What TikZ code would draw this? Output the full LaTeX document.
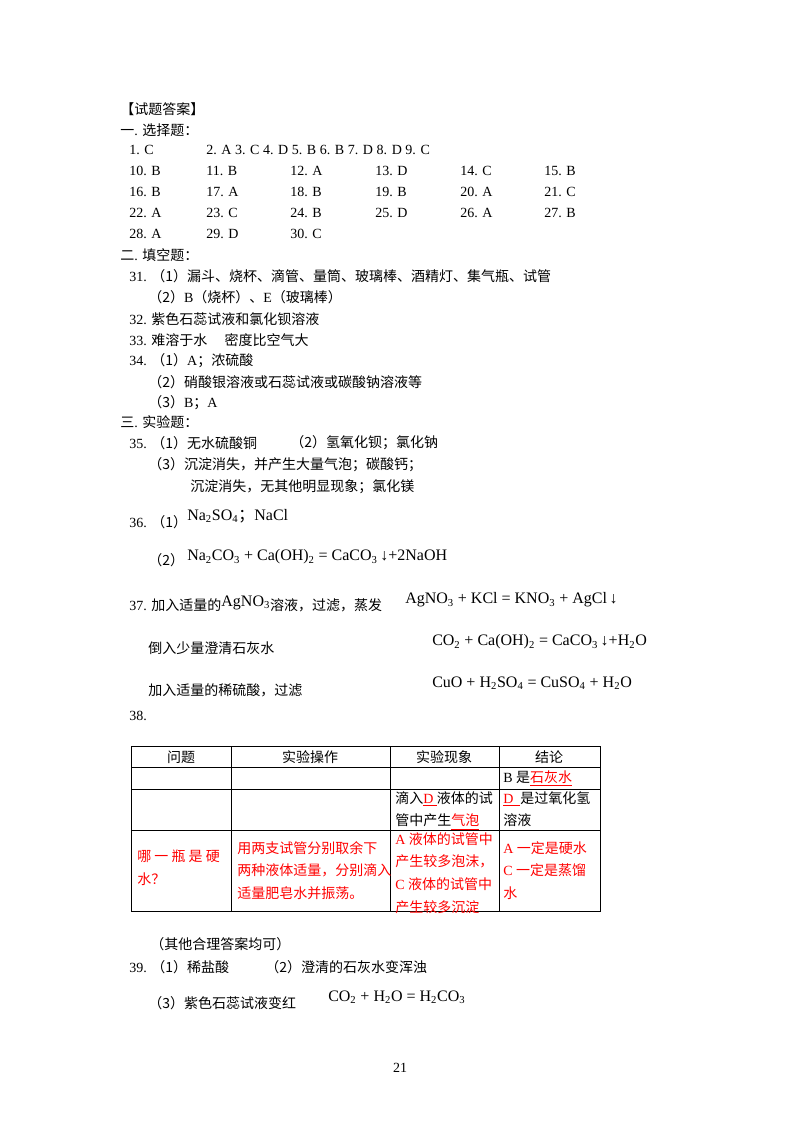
\documentclass[tikz,border=0pt]{standalone}
\usepackage{fontspec}
\setmainfont{Liberation Serif}
\newfontfamily\zhf{Noto Sans CJK SC}
\newcommand\zh[1]{{\zhf #1}}
\newcommand\sub[1]{\textsubscript{#1}}
\begin{document}
\begin{tikzpicture}[x=0.75pt,y=-0.75pt,
  t/.style={anchor=west,inner sep=0pt,font=\fontsize{10.5}{12}\selectfont},
  f/.style={anchor=west,inner sep=0pt,font=\fontsize{12}{14}\selectfont},
  rt/.style={t,text=red},
  cell/.style={anchor=north west,inner sep=0pt,font=\fontsize{10.5}{17}\selectfont,align=left},
  grid/.style={line width=0.6pt}]
\useasboundingbox[fill=white] (0,0) rectangle (800,1132);
\node[t] (h) at (120,109) {\zh{【试题答案】}};
\node[t] (s1) at (120,130) {\zh{一}. \zh{选择题：}};
\node[t] (a1) at (129,150) {1. C};
\node[t] (a2) at (206,150) {2. A 3. C 4. D 5. B 6. B 7. D 8. D 9. C};
\foreach \r/\yy/\list in {0/171/{10. B,11. B,12. A,13. D,14. C,15. B},1/192/{16. B,17. A,18. B,19. B,20. A,21. C},2/213/{22. A,23. C,24. B,25. D,26. A,27. B},3/234/{28. A,29. D,30. C}}{
  \foreach \txt [count=\i] in \list {
    \pgfmathsetmacro\xx{{129,206,290,375,460,544}[\i-1]}
    \node[t] (g\r-\i) at (\xx,\yy) {\txt};
  }
}
\node[t] (s2) at (120,255) {\zh{二}. \zh{填空题：}};
\node[t] (q31) at (129,276) {31. \zh{（1）漏斗、烧杯、滴管、量筒、玻璃棒、酒精灯、集气瓶、试管}};
\node[t] (q31b) at (148,297) {\zh{（2）}B\zh{（烧杯）、}E\zh{（玻璃棒）}};
\node[t] (q32) at (129,319) {32. \zh{紫色石蕊试液和氯化钡溶液}};
\node[t] (q33) at (129,340) {33. \zh{难溶于水\quad\ 密度比空气大}};
\node[t] (q34) at (129,361) {34. \zh{（1）}A\zh{；浓硫酸}};
\node[t] (q34b) at (148,382) {\zh{（2）硝酸银溶液或石蕊试液或碳酸钠溶液等}};
\node[t] (q34c) at (148,403) {\zh{（3）}B\zh{；}A};
\node[t] (s3) at (120,422) {\zh{三}. \zh{实验题：}};
\node[t] (q35) at (129,443) {35. \zh{（1）无水硫酸铜}};
\node[t] (q35b) at (290,443) {\zh{（2）氢氧化钡；氯化钠}};
\node[t] (q35c) at (148,465) {\zh{（3）沉淀消失，并产生大量气泡；碳酸钙；}};
\node[t] (q35d) at (190,487) {\zh{沉淀消失，无其他明显现象；氯化镁}};
\node[t] (q36) at (129,522) {36. \zh{（1）}};
\node[f] (q36f) at (187,516) {Na\sub{2}SO\sub{4}\zh{；}NaCl};
\node[t] (q36b) at (148,560) {\zh{（2）}};
\node[f] (q36g) at (187,557) {Na\sub{2}CO\sub{3} + Ca(OH)\sub{2} = CaCO\sub{3}\,↓+2NaOH};
\node[t] (q37) at (129,604) {37. \zh{加入适量的}\raisebox{3pt}{\fontsize{12}{14}\selectfont AgNO\sub{3}}\zh{溶液，过滤，蒸发}};
\node[f] (q37f) at (405,600) {AgNO\sub{3} + KCl = KNO\sub{3} + AgCl\,↓};
\node[t] (q37b) at (148,648) {\zh{倒入少量澄清石灰水}};
\node[f] (q37g) at (432,642) {CO\sub{2} + Ca(OH)\sub{2} = CaCO\sub{3}\,↓+H\sub{2}O};
\node[t] (q37c) at (148,690) {\zh{加入适量的稀硫酸，过滤}};
\node[f] (q37h) at (432,683) {CuO + H\sub{2}SO\sub{4} = CuSO\sub{4} + H\sub{2}O};
\node[t] (q38) at (129,716) {38.};
% table
\draw[grid] (131,746) rectangle (600,911);
\foreach \yy in {767,789,830} \draw[grid] (131,\yy) -- (600,\yy);
\foreach \xx in {231,390,499} \draw[grid] (\xx,746) -- (\xx,911);
\node[t,anchor=center] (c1) at (181,757) {\zh{问题}};
\node[t,anchor=center] (c2) at (310,757) {\zh{实验操作}};
\node[t,anchor=center] (c3) at (444,757) {\zh{实验现象}};
\node[t,anchor=center] (c4) at (549,757) {\zh{结论}};
\node[t] (b1) at (503,778) {B \zh{是}\textcolor{red}{\underline{\zh{石灰水}}}};
\node[cell] (d1) at (395,791) {\zh{滴入}\textcolor{red}{\underline{D\ }}\zh{液体的试}\\\zh{管中产生}\textcolor{red}{\underline{\zh{气泡}}}};
\node[cell] (d2) at (503,791) {\textcolor{red}{\underline{D\ \ }}\zh{是过氧化氢}\\\zh{溶液}};
\node[cell,text=red] (e1) at (137,850) {\zh{哪 一 瓶 是 硬}\\\zh{水？}};
\node[cell,text=red] (e2) at (237,841) {\zh{用两支试管分别取余下}\\\zh{两种液体适量，分别滴入}\\\zh{适量肥皂水并振荡。}};
\node[cell,text=red] (e3) at (395,832) {A \zh{液体的试管中}\\\zh{产生较多泡沫，}\\C \zh{液体的试管中}\\\zh{产生较多沉淀}};
\node[cell,text=red] (e4) at (503,841) {A \zh{一定是硬水}\\C \zh{一定是蒸馏}\\\zh{水}};
\node[t] (n1) at (150,944) {\zh{（其他合理答案均可）}};
\node[t] (q39) at (129,967) {39. \zh{（1）稀盐酸}};
\node[t] (q39b) at (265,967) {\zh{（2）澄清的石灰水变浑浊}};
\node[t] (q39c) at (148,1003) {\zh{（3）紫色石蕊试液变红}};
\node[f] (q39f) at (328,997) {CO\sub{2} + H\sub{2}O = H\sub{2}CO\sub{3}};
\node[t,anchor=center] (pg) at (400,1068) {21};
\end{tikzpicture}
\end{document}
